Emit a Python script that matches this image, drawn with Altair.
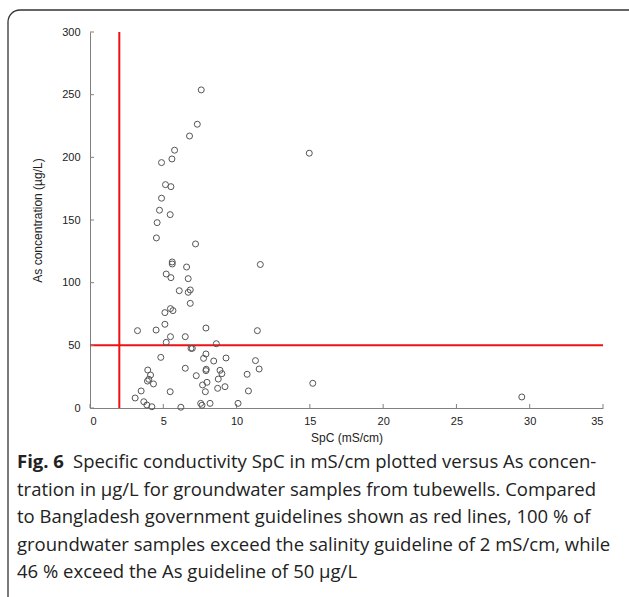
import altair as alt
import pandas as pd

# SpC (mS/cm) and As concentration (ug/L)
spc = [7.59, 7.32, 6.79, 5.77, 5.59, 4.88, 5.15, 5.52, 4.88, 4.74,
       5.47, 4.58, 4.53, 7.20, 5.61, 5.61, 6.59, 5.20, 5.52, 6.70,
       11.62, 6.09, 6.84, 6.70, 6.84, 5.49, 5.66, 5.11, 5.11, 3.24,
       4.51, 7.91, 11.42, 5.49, 6.50, 5.20, 8.62, 6.89, 6.98, 14.96,
       15.20, 29.46, 4.83, 7.75, 7.91, 8.44, 9.28, 11.29, 3.94, 6.50,
       7.93, 7.91, 8.87, 9.00, 11.54, 10.72, 4.13, 4.01, 3.92, 4.33,
       7.25, 7.98, 7.68, 8.75, 9.21, 8.71, 3.49, 5.47, 7.87, 10.81,
       3.08, 3.67, 3.88, 4.22, 6.20, 7.55, 7.64, 8.19, 10.10]
as_conc = [253.8, 226.4, 217.0, 205.7, 198.7, 195.8, 178.2, 176.6, 167.4, 157.8,
           154.3, 147.9, 135.7, 130.9, 116.5, 114.9, 112.5, 106.9, 104.0, 103.2,
           114.5, 93.6, 94.2, 92.3, 83.5, 79.3, 77.7, 76.1, 66.8, 61.7,
           62.2, 63.8, 61.7, 56.9, 56.9, 52.4, 51.3, 47.6, 47.6, 203.3,
           19.7, 8.8, 40.4, 39.6, 43.1, 37.5, 39.9, 37.8, 30.3, 31.7,
           30.9, 29.8, 30.1, 27.4, 31.1, 26.9, 26.3, 22.9, 21.5, 19.2,
           25.8, 20.5, 18.4, 23.1, 17.0, 15.7, 13.6, 13.0, 13.0, 13.6,
           8.0, 5.0, 2.4, 1.0, 0.6, 3.7, 2.2, 3.7, 3.7]

x_ticks = [0, 5, 10, 15, 20, 25, 30, 35]
y_ticks = [0, 50, 100, 150, 200, 250, 300]
spc_guideline = [2]
as_guideline = [50]

caption_bold = "Fig. 6"
caption_first = "Specific conductivity SpC in mS/cm plotted versus As concen-"
caption_rest = [
    "tration in \u00b5g/L for groundwater samples from tubewells. Compared",
    "to Bangladesh government guidelines shown as red lines, 100 % of",
    "groundwater samples exceed the salinity guideline of 2 mS/cm, while",
    "46 % exceed the As guideline of 50 \u00b5g/L",
]

W, H = 513, 376
AXIS_FONT = "Liberation Sans"
CAP_FONT = "Open Sans"
CAP_SIZE = 18.5
LINE_STEP = 27.5
CAP_Y0 = 430

pts = pd.DataFrame({"spc": spc, "as": as_conc})
xdom = alt.Scale(domain=[0, 35], nice=False, zero=False)
ydom = alt.Scale(domain=[0, 300], nice=False)

x_axis = alt.Axis(values=x_ticks, ticks=False, grid=False, domainColor="#808080",
                  labelFont=AXIS_FONT, labelFontSize=11, labelColor="#222",
                  labelPadding=7, title="SpC (mS/cm)", titleFont=AXIS_FONT,
                  titleFontSize=12, titleFontWeight="normal", titleColor="#222",
                  titlePadding=6)
y_axis = alt.Axis(values=y_ticks, ticks=False, grid=False, domainColor="#808080",
                  labelFont=AXIS_FONT, labelFontSize=11, labelColor="#222",
                  labelPadding=10, title="As concentration (\u00b5g/L)", titleFont=AXIS_FONT,
                  titleFontSize=12, titleFontWeight="normal", titleColor="#222",
                  titlePadding=17)

points = alt.Chart(pts).mark_point(shape="circle", filled=False, size=36,
                                   stroke="#555555", strokeWidth=1, opacity=1).encode(
    x=alt.X("spc:Q", scale=xdom, axis=x_axis),
    y=alt.Y("as:Q", scale=ydom, axis=y_axis),
)

xt = alt.Chart(pd.DataFrame({"t": x_ticks})).mark_rule(color="#808080", strokeWidth=1).encode(
    x=alt.X("t:Q", scale=xdom), y=alt.value(H - 4), y2=alt.value(H))
yt = alt.Chart(pd.DataFrame({"t": y_ticks})).mark_rule(color="#808080", strokeWidth=1).encode(
    y=alt.Y("t:Q", scale=ydom), x=alt.value(0), x2=alt.value(4))

vline = alt.Chart(pd.DataFrame({"v": spc_guideline})).mark_rule(color="#ee1111", strokeWidth=2).encode(
    x=alt.X("v:Q", scale=xdom), y=alt.value(0), y2=alt.value(H))
hline = alt.Chart(pd.DataFrame({"v": as_guideline})).mark_rule(color="#ee1111", strokeWidth=2).encode(
    y=alt.Y("v:Q", scale=ydom), x=alt.value(0), x2=alt.value(W))

frame = alt.Chart(pd.DataFrame({"a": [0]})).mark_rect(
    fill="white", fillOpacity=0, stroke="#333333", strokeWidth=1.3, cornerRadius=12).encode(
    x=alt.value(-82), x2=alt.value(W + 60), y=alt.value(-22), y2=alt.value(H + 200))

cap1b = alt.Chart(pd.DataFrame({"t": [caption_bold]})).mark_text(
    align="left", baseline="middle", font=CAP_FONT, fontSize=CAP_SIZE, fontWeight="bold",
    color="#222").encode(text="t:N", x=alt.value(-73), y=alt.value(CAP_Y0))
cap1 = alt.Chart(pd.DataFrame({"t": [caption_first]})).mark_text(
    align="left", baseline="middle", font=CAP_FONT, fontSize=CAP_SIZE,
    color="#222").encode(text="t:N", x=alt.value(-17), y=alt.value(CAP_Y0))
caps = [
    alt.Chart(pd.DataFrame({"t": [line]})).mark_text(
        align="left", baseline="middle", font=CAP_FONT, fontSize=CAP_SIZE,
        color="#222").encode(text="t:N", x=alt.value(-73), y=alt.value(CAP_Y0 + LINE_STEP * (i + 1)))
    for i, line in enumerate(caption_rest)
]

chart = alt.layer(frame, vline, hline, xt, yt, points, cap1b, cap1, *caps).properties(
    width=W, height=H,
    autosize=alt.AutoSizeParams(type="none"),
    padding={"left": 90, "top": 32, "right": 26, "bottom": 189},
    background="white",
).configure_view(stroke=None)

chart.save("out.html", embed_options={"renderer": "svg", "actions": False})
